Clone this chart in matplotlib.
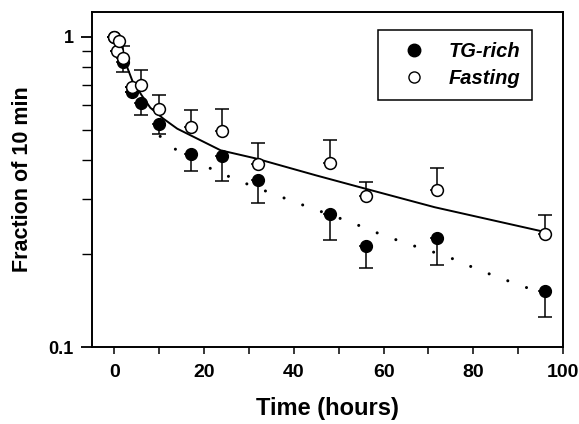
import matplotlib
matplotlib.use("Agg")
import matplotlib.pyplot as plt
import numpy as np
from matplotlib.lines import Line2D

plt.rcParams['font.family'] = ['Liberation Sans', 'DejaVu Sans']
plt.rcParams['font.weight'] = 'bold'

# Fasting (open circles)
fast_t = [0, 0.5, 1, 2, 4, 6, 10, 17, 24, 32, 48, 56, 72, 96]
fast_v = [1.0, 0.90, 0.97, 0.854, 0.69, 0.696, 0.585, 0.511, 0.496, 0.390, 0.392, 0.306, 0.32, 0.232]
fast_err_up = [0, 0, 0, 0.081, 0, 0.084, 0.061, 0.071, 0.089, 0.064, 0.071, 0.034, 0.058, 0.034]

# TG-rich (filled circles)
tg_t = [0, 2, 4, 6, 10, 17, 24, 32, 48, 56, 72, 96]
tg_v = [1.0, 0.827, 0.662, 0.610, 0.524, 0.420, 0.412, 0.344, 0.269, 0.212, 0.225, 0.152]
tg_err_down = [0, 0.059, 0, 0.05, 0.038, 0.051, 0.07, 0.052, 0.048, 0.032, 0.041, 0.027]

# fitted curves
fast_fit_t = [2.0, 2.7, 4.0, 6.1, 8.0, 10.9, 14.0, 17.7, 23.7, 31.5, 45.0, 55.8, 71.4, 95.8]
fast_fit_v = [0.86, 0.807, 0.72, 0.646, 0.59, 0.544, 0.505, 0.475, 0.430, 0.405, 0.357, 0.324, 0.282, 0.235]
tg_fit_t = [10.2, 13.9, 20.7, 27.5, 34.7, 42.2, 52.8, 59.9, 67.5, 74.1, 81.7, 89.4, 96]
tg_fit_v = [0.477, 0.430, 0.380, 0.344, 0.314, 0.286, 0.252, 0.229, 0.21, 0.196, 0.176, 0.16, 0.148]

x_ticks = [0, 10, 20, 30, 40, 50, 60, 70, 80, 90, 100]
x_labels = ['0', '', '20', '', '40', '', '60', '', '80', '', '100']
y_ticks = [0.1, 1]
y_labels = ['0.1', '1']

fig = plt.figure(figsize=(5.79, 4.24), dpi=100)
ax = fig.add_axes([92/579, 1-347/424, (563-92)/579, (347-12)/424])

ax.plot(fast_fit_t, fast_fit_v, '-', color='black', lw=1.4, zorder=2)
ax.plot(tg_fit_t, tg_fit_v, color='black', lw=2.2, linestyle=(0, (0.01, 6.5)),
        dash_capstyle='round', zorder=2)

ms = 8.5
ax.errorbar(tg_t, tg_v, yerr=[tg_err_down, [0]*len(tg_t)], fmt='o', color='black',
            mfc='black', mec='black', ms=ms, ecolor='black', elinewidth=1.1,
            capsize=5, capthick=1.1, zorder=3)
ax.errorbar(fast_t, fast_v, yerr=[[0]*len(fast_t), fast_err_up], fmt='o', color='black',
            mfc='white', mec='black', mew=1.1, ms=ms, ecolor='black', elinewidth=1.1,
            capsize=5, capthick=1.1, zorder=4)

ax.set_yscale('log')
ax.set_xlim(-5, 100)
ax.set_ylim(0.1, 1.2)
ax.xaxis.set_major_locator(matplotlib.ticker.FixedLocator(x_ticks))
ax.xaxis.set_major_formatter(matplotlib.ticker.FixedFormatter(x_labels))
ax.yaxis.set_major_locator(matplotlib.ticker.FixedLocator(y_ticks))
ax.yaxis.set_major_formatter(matplotlib.ticker.FixedFormatter(y_labels))
ax.yaxis.set_minor_locator(matplotlib.ticker.LogLocator(base=10, subs=np.arange(2, 10)))
ax.yaxis.set_minor_formatter(matplotlib.ticker.NullFormatter())
ax.tick_params(axis='x', which='major', direction='out', length=5, width=1.1, pad=7,
               labelsize=14)
ax.tick_params(axis='y', which='major', direction='out', length=8, width=1.3, pad=5,
               labelsize=13)
ax.tick_params(axis='y', which='minor', direction='out', length=7, width=1.0)
for s in ax.spines.values():
    s.set_linewidth(1.4)

ax.set_xlabel('Time (hours)', fontsize=17, fontweight='bold', labelpad=12)
ax.set_ylabel('Fraction of 10 min', fontsize=15.5, fontweight='bold', labelpad=11)

h1 = Line2D([], [], marker='o', ls='', mfc='black', mec='black', ms=9)
h2 = Line2D([], [], marker='o', ls='', mfc='white', mec='black', ms=8)
leg = ax.legend([h1, h2], ['TG-rich', 'Fasting'], loc='upper left',
                bbox_to_anchor=(378/579, 1-30/424), bbox_transform=fig.transFigure,
                fancybox=False, edgecolor='black', framealpha=1,
                prop={'size': 14.5, 'weight': 'bold', 'style': 'italic'},
                handlelength=2.4, handletextpad=0.5, borderpad=0.6, labelspacing=0.4,
                borderaxespad=0)
leg.get_frame().set_linewidth(1.1)

fig.savefig('out.png', dpi=100)
